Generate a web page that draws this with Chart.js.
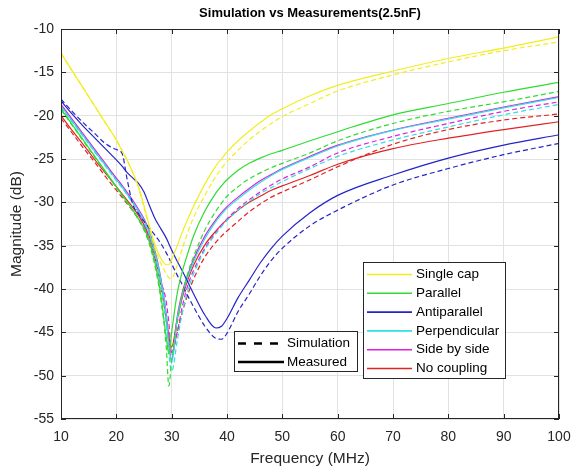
<!DOCTYPE html>
<html><head><meta charset="utf-8">
<script src="https://cdn.jsdelivr.net/npm/chart.js@4.4.1/dist/chart.umd.min.js"></script>
<style>html,body{margin:0;padding:0;background:#fff}#wrap{width:571px;height:473px}</style>
</head><body><div id="wrap"><canvas id="c" width="571" height="473"></canvas></div>
<script>
const freqMHz = [10,12,14,16,18,20,21,22,23,24,25,26,27,28,29,29.5,30,31,32,33,34,36,38,39,40,42,44,46,48,50,55,60,70,80,90,100];
const xTicks = [10,20,30,40,50,60,70,80,90,100];
const yTicks = [-10,-15,-20,-25,-30,-35,-40,-45,-50,-55];
const seriesNames = ['Single cap','Parallel','Antiparallel','Perpendicular','Side by side','No coupling'];
const styleNames = ['Simulation','Measured'];

const singleCapMeas = [-12.8,-14.8,-16.8,-18.8,-20.8,-22.8,-24.0,-25.2,-26.6,-28.2,-30.4,-32.8,-34.9,-36.4,-37.2,-37.2,-36.6,-35.0,-33.3,-31.8,-30.4,-27.9,-25.8,-25.0,-24.2,-22.9,-21.8,-20.8,-19.9,-19.2,-17.7,-16.5,-14.85,-13.4,-12.2,-10.9];
const singleCapSim = [-12.8,-14.8,-16.8,-18.8,-20.8,-22.8,-24.0,-25.2,-26.6,-28.3,-30.6,-33.0,-35.3,-37.0,-38.2,-38.7,-38.8,-37.2,-35.2,-33.3,-31.7,-29.2,-27.0,-26.1,-25.3,-24.0,-22.8,-21.8,-20.9,-20.1,-18.6,-17.15,-15.3,-13.8,-12.5,-11.5];
const parallelMeas = [-19.2,-21.0,-22.8,-24.6,-26.4,-28.2,-29.1,-30.0,-30.9,-31.9,-33.0,-34.6,-37.0,-40.5,-45.5,-47.5,-45.0,-40.5,-37.8,-35.7,-33.8,-31.0,-28.9,-28.1,-27.4,-26.3,-25.5,-24.9,-24.4,-24.0,-22.9,-21.85,-19.9,-18.6,-17.3,-16.15];
const parallelSim = [-19.3,-21.1,-22.9,-24.7,-26.5,-28.3,-29.2,-30.1,-31.0,-32.0,-33.2,-34.9,-37.4,-41.0,-46.5,-51.2,-48.0,-44.0,-40.5,-38.0,-36.2,-33.2,-31.0,-30.1,-29.3,-28.2,-27.3,-26.6,-26.0,-25.5,-24.3,-22.9,-20.9,-19.5,-18.4,-17.2];
const antiparallelMeas = [-18.3,-19.8,-21.2,-22.5,-23.8,-25.1,-25.8,-26.6,-27.2,-27.8,-28.8,-30.4,-31.9,-33.0,-34.1,-34.8,-35.5,-36.8,-38.0,-39.3,-40.6,-43.0,-44.5,-44.3,-43.4,-41.0,-39.0,-37.0,-35.3,-33.9,-31.2,-29.2,-26.85,-24.9,-23.4,-22.2];
const antiparallelSim = [-18.1,-19.5,-20.8,-22.0,-23.2,-23.9,-24.3,-27.5,-30.3,-31.3,-32.2,-33.0,-33.8,-34.7,-35.8,-36.4,-37.1,-38.4,-39.6,-40.9,-42.1,-44.3,-45.7,-45.8,-45.1,-42.6,-40.6,-38.5,-36.7,-35.3,-32.7,-30.9,-28.0,-26.1,-24.5,-23.2];
const perpendicularMeas = [-18.9,-20.6,-22.3,-24.0,-25.7,-27.4,-28.2,-29.1,-30.0,-31.0,-32.1,-33.6,-35.8,-38.8,-43.0,-46.5,-48.5,-43.5,-40.5,-38.5,-36.8,-34.2,-32.2,-31.4,-30.7,-29.6,-28.6,-27.7,-26.9,-26.2,-24.8,-23.5,-21.7,-20.4,-19.1,-17.9];
const perpendicularSim = [-19.0,-20.7,-22.4,-24.1,-25.8,-27.5,-28.3,-29.2,-30.1,-31.1,-32.3,-33.8,-36.0,-39.5,-44.0,-47.5,-49.5,-46.0,-42.5,-40.0,-38.2,-35.5,-33.6,-32.8,-32.1,-30.9,-29.9,-29.0,-28.3,-27.6,-26.1,-24.7,-22.8,-21.3,-19.9,-18.7];
const sideBySideMeas = [-18.7,-20.4,-22.1,-23.8,-25.5,-27.2,-28.0,-28.9,-29.8,-30.8,-31.9,-33.4,-35.6,-38.6,-43.0,-46.5,-48.2,-43.2,-40.2,-38.2,-36.5,-33.9,-32.0,-31.2,-30.5,-29.4,-28.4,-27.5,-26.8,-26.1,-24.7,-23.4,-21.65,-20.3,-19.0,-17.8];
const sideBySideSim = [-18.9,-20.6,-22.3,-24.0,-25.7,-27.3,-28.1,-29.0,-30.0,-31.2,-32.6,-34.5,-36.6,-39.0,-41.4,-44.0,-47.5,-45.0,-41.8,-39.4,-37.8,-35.3,-33.4,-32.6,-31.9,-30.7,-29.7,-28.8,-28.0,-27.3,-25.9,-24.3,-22.4,-20.9,-19.5,-18.4];
const noCouplingMeas = [-20.0,-21.7,-23.3,-25.0,-26.6,-28.2,-29.0,-29.8,-30.6,-31.5,-32.6,-34.0,-36.0,-39.0,-43.0,-45.5,-46.7,-43.5,-40.8,-38.8,-37.2,-34.9,-33.3,-32.6,-32.0,-30.9,-30.0,-29.3,-28.6,-28.1,-26.9,-25.6,-23.8,-22.6,-21.6,-20.7];
const noCouplingSim = [-20.3,-22.0,-23.7,-25.3,-27.0,-28.6,-29.4,-30.2,-31.0,-31.9,-33.0,-34.5,-36.5,-39.5,-43.5,-46.0,-47.3,-45.0,-42.5,-40.5,-38.8,-36.3,-34.6,-33.9,-33.3,-32.2,-31.1,-30.2,-29.4,-28.8,-27.4,-25.9,-23.3,-21.6,-20.5,-19.8];

const colors = ['#f2ee1e','#2fdc2f','#2424c8','#30e0e0','#e020e0','#e02424'];
const FONT = "'Liberation Sans', Arial, sans-serif";

const pairs = [
  [singleCapSim, singleCapMeas],
  [parallelSim, parallelMeas],
  [antiparallelSim, antiparallelMeas],
  [perpendicularSim, perpendicularMeas],
  [sideBySideSim, sideBySideMeas],
  [noCouplingSim, noCouplingMeas]
];
const datasets = [];
pairs.forEach((p, i) => {
  datasets.push({label: seriesNames[i] + ' ' + styleNames[0], data: freqMHz.map((f, k) => ({x: f, y: p[0][k]})),
    borderColor: colors[i], borderWidth: 1.2, borderDash: [5, 3], pointRadius: 0, fill: false, cubicInterpolationMode: 'monotone'});
  datasets.push({label: seriesNames[i] + ' ' + styleNames[1], data: freqMHz.map((f, k) => ({x: f, y: p[1][k]})),
    borderColor: colors[i], borderWidth: 1.2, pointRadius: 0, fill: false, cubicInterpolationMode: 'monotone'});
});

const decor = {
  id: 'decor',
  afterDatasetsDraw(chart) {
    const ctx = chart.ctx, a = chart.chartArea;
    const xs = chart.scales.x, ys = chart.scales.y;
    ctx.save();
    ctx.setLineDash([]);
    ctx.strokeStyle = '#262626'; ctx.lineWidth = 1;
    ctx.strokeRect(Math.round(a.left) + 0.5, Math.round(a.top) + 0.5, Math.round(a.right - a.left) - 1, Math.round(a.bottom - a.top) - 1);
    ctx.beginPath();
    xTicks.forEach(v => { const px = Math.round(xs.getPixelForValue(v)) + 0.5;
      ctx.moveTo(px, a.bottom); ctx.lineTo(px, a.bottom - 5); ctx.moveTo(px, a.top); ctx.lineTo(px, a.top + 5); });
    yTicks.forEach(v => { const py = Math.round(ys.getPixelForValue(v)) + 0.5;
      ctx.moveTo(a.left, py); ctx.lineTo(a.left + 5, py); ctx.moveTo(a.right, py); ctx.lineTo(a.right - 5, py); });
    ctx.stroke();
    ctx.fillStyle = '#000'; ctx.font = 'bold 13px ' + FONT; ctx.textAlign = 'center'; ctx.textBaseline = 'middle';
    ctx.fillText('Simulation vs Measurements(2.5nF)', (a.left + a.right) / 2, 13);
    // legend 1 (colours)
    ctx.fillStyle = '#fff'; ctx.fillRect(363, 262, 142, 116);
    ctx.strokeStyle = '#262626'; ctx.lineWidth = 1; ctx.strokeRect(363.5, 262.5, 142, 116);
    ctx.font = '13.5px ' + FONT; ctx.textAlign = 'left';
    seriesNames.forEach((n, i) => {
      const y = 274.5 + i * 18.8;
      ctx.strokeStyle = colors[i]; ctx.lineWidth = 1.6;
      ctx.beginPath(); ctx.moveTo(367, y); ctx.lineTo(412, y); ctx.stroke();
      ctx.fillStyle = '#000'; ctx.fillText(n, 416, y);
    });
    // legend 2 (line styles)
    ctx.fillStyle = '#fff'; ctx.fillRect(234, 331, 123, 40);
    ctx.strokeStyle = '#262626'; ctx.lineWidth = 1; ctx.strokeRect(234.5, 331.5, 123, 40);
    ctx.strokeStyle = '#000'; ctx.lineWidth = 2.5;
    ctx.setLineDash([8, 8]);
    ctx.beginPath(); ctx.moveTo(238, 343.5); ctx.lineTo(284, 343.5); ctx.stroke();
    ctx.setLineDash([]);
    ctx.beginPath(); ctx.moveTo(238, 362); ctx.lineTo(284, 362); ctx.stroke();
    ctx.fillStyle = '#000'; ctx.fillText(styleNames[0], 287, 343.5); ctx.fillText(styleNames[1], 287, 362);
    ctx.restore();
  }
};

new Chart(document.getElementById('c'), {
  type: 'line',
  data: {datasets},
  options: {
    responsive: false, animation: false, devicePixelRatio: 1,
    layout: {padding: {top: 29, right: 12, left: 0, bottom: 0}},
    plugins: {legend: {display: false}, tooltip: {enabled: false}},
    scales: {
      x: {type: 'linear', min: 10, max: 100,
        afterFit: s => { s.height = 54; s.paddingLeft = 0; s.paddingRight = 0; },
        afterBuildTicks: s => { s.ticks = xTicks.map(v => ({value: v})); },
        ticks: {color: '#262626', font: {family: FONT, size: 14}, padding: 10, maxRotation: 0},
        grid: {color: '#e2e2e2', drawTicks: false},
        border: {display: false},
        title: {display: true, text: 'Frequency (MHz)', color: '#262626', font: {family: FONT, size: 15.5}, padding: {top: 0, bottom: 5}}
      },
      y: {type: 'linear', min: -55, max: -10,
        afterFit: s => { s.width = 61; s.paddingTop = 0; s.paddingBottom = 0; },
        afterBuildTicks: s => { s.ticks = yTicks.map(v => ({value: v})); },
        ticks: {color: '#262626', font: {family: FONT, size: 14}, padding: 7},
        grid: {color: '#e2e2e2', drawTicks: false},
        border: {display: false},
        title: {display: true, text: 'Magnitude (dB)', color: '#262626', font: {family: FONT, size: 15.5}, padding: {top: 7, bottom: 0}}
      }
    }
  },
  plugins: [decor]
});
</script></body></html>
